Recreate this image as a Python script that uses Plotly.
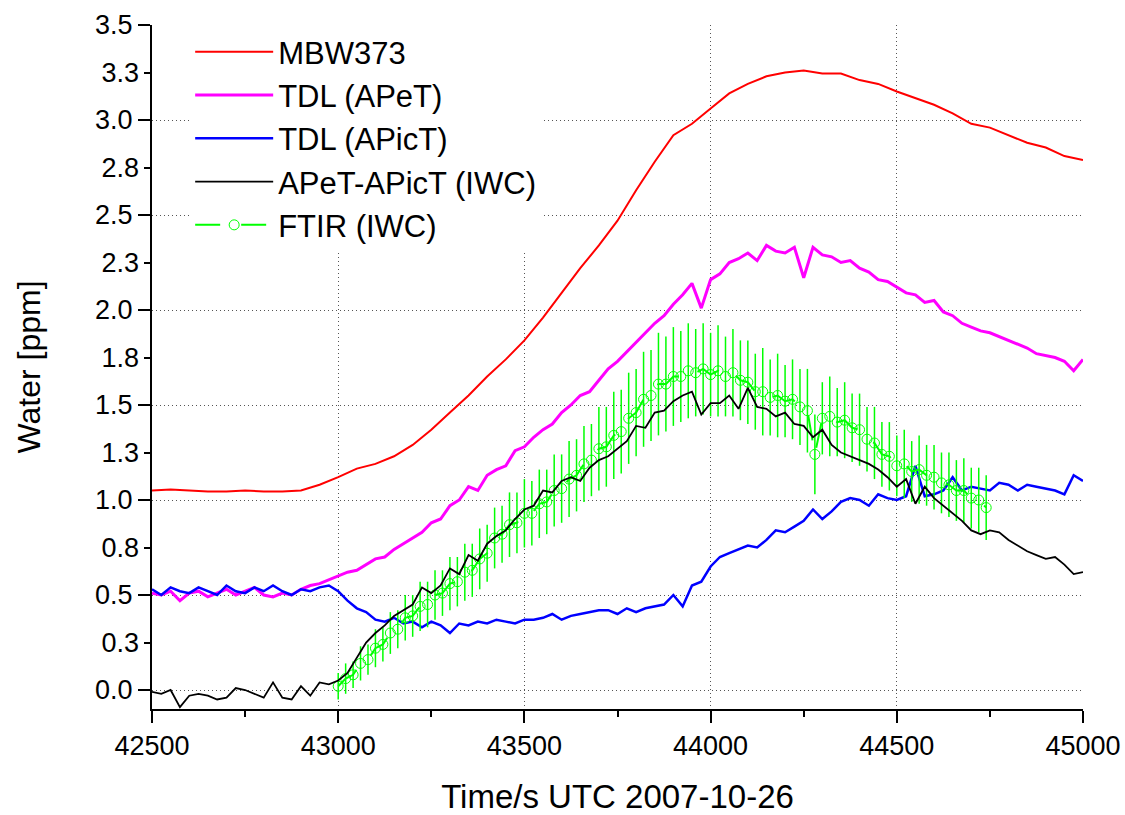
import plotly.graph_objects as go

# ---- time axis of the in-situ series (s UTC, 25 s steps) ----
t_insitu = [42500 + 25 * i for i in range(101)]

# MBW373 frost-point hygrometer (smooth, 50 s steps)
t_mbw = [42500 + 50 * i for i in range(51)]
mbw373 = [1.05, 1.055, 1.05, 1.045, 1.045, 1.05, 1.045, 1.045, 1.05, 1.08,
          1.12, 1.165, 1.19, 1.23, 1.29, 1.37, 1.46, 1.55, 1.65, 1.74,
          1.84, 1.96, 2.09, 2.22, 2.34, 2.47, 2.63, 2.78, 2.92, 2.98,
          3.06, 3.14, 3.19, 3.23, 3.25, 3.26, 3.245, 3.245, 3.21, 3.19,
          3.15, 3.115, 3.08, 3.035, 2.98, 2.96, 2.92, 2.88, 2.855, 2.81,
          2.79]

tdl_apet = [0.51, 0.50, 0.52, 0.47, 0.51, 0.52, 0.49, 0.51, 0.53, 0.50,
            0.52, 0.54, 0.50, 0.49, 0.51, 0.50, 0.53, 0.55, 0.56, 0.58,
            0.60, 0.62, 0.63, 0.66, 0.69, 0.70, 0.74, 0.77, 0.80, 0.83,
            0.88, 0.90, 0.97, 1.00, 1.07, 1.05, 1.13, 1.16, 1.18, 1.26,
            1.28, 1.33, 1.37, 1.40, 1.46, 1.50, 1.55, 1.57, 1.63, 1.69,
            1.73, 1.78, 1.83, 1.88, 1.93, 1.97, 2.03, 2.08, 2.14, 2.01,
            2.16, 2.19, 2.25, 2.27, 2.30, 2.26, 2.34, 2.31, 2.30, 2.33,
            2.17, 2.33, 2.29, 2.28, 2.25, 2.26, 2.22, 2.20, 2.16, 2.15,
            2.12, 2.09, 2.08, 2.04, 2.05, 1.99, 1.97, 1.93, 1.91, 1.89,
            1.88, 1.86, 1.84, 1.82, 1.80, 1.77, 1.76, 1.75, 1.73, 1.68,
            1.74]

tdl_apict = [0.53, 0.50, 0.54, 0.52, 0.51, 0.54, 0.52, 0.50, 0.55, 0.52,
             0.51, 0.54, 0.52, 0.55, 0.52, 0.50, 0.53, 0.52, 0.54, 0.55,
             0.52, 0.47, 0.43, 0.41, 0.37, 0.36, 0.38, 0.35, 0.36, 0.33,
             0.36, 0.34, 0.30, 0.35, 0.34, 0.36, 0.35, 0.37, 0.36, 0.35,
             0.37, 0.37, 0.38, 0.40, 0.37, 0.39, 0.40, 0.41, 0.42, 0.42,
             0.40, 0.43, 0.41, 0.43, 0.44, 0.45, 0.50, 0.44, 0.55, 0.57,
             0.65, 0.70, 0.72, 0.74, 0.76, 0.75, 0.79, 0.84, 0.83, 0.86,
             0.89, 0.95, 0.90, 0.94, 0.99, 1.01, 1.00, 0.97, 1.03, 1.01,
             1.00, 1.02, 1.18, 1.02, 1.03, 1.05, 1.12, 1.05, 1.07, 1.06,
             1.05, 1.09, 1.08, 1.05, 1.08, 1.07, 1.06, 1.05, 1.03, 1.13,
             1.10]

iwc_diff = [-0.01, -0.02, 0.00, -0.09, -0.03, -0.02, -0.03, -0.05, -0.04, 0.01,
            0.00, -0.02, -0.04, 0.04, -0.04, -0.05, 0.02, -0.03, 0.04, 0.03,
            0.05, 0.09, 0.17, 0.25, 0.30, 0.34, 0.39, 0.42, 0.45, 0.54,
            0.51, 0.55, 0.64, 0.61, 0.71, 0.68, 0.77, 0.81, 0.84, 0.90,
            0.95, 0.97, 1.05, 1.04, 1.10, 1.12, 1.10, 1.17, 1.21, 1.23,
            1.27, 1.31, 1.39, 1.38, 1.46, 1.47, 1.52, 1.55, 1.57, 1.45,
            1.51, 1.51, 1.55, 1.48, 1.59, 1.49, 1.48, 1.44, 1.46, 1.40,
            1.39, 1.33, 1.37, 1.29, 1.25, 1.23, 1.21, 1.19, 1.16, 1.12,
            1.07, 1.11, 0.98, 1.07, 1.01, 0.97, 0.93, 0.89, 0.84, 0.82,
            0.84, 0.83, 0.79, 0.76, 0.73, 0.71, 0.69, 0.70, 0.66, 0.61,
            0.62]

# FTIR ice water content with uncertainty (20 s steps)
t_ftir = [43000 + 20 * i for i in range(88)]
ftir_iwc = [0.02, 0.06, 0.08, 0.14, 0.16, 0.22, 0.24, 0.30, 0.32, 0.38,
            0.39, 0.44, 0.45, 0.50, 0.51, 0.56, 0.57, 0.62, 0.63, 0.69,
            0.72, 0.80, 0.82, 0.87, 0.88, 0.93, 0.93, 0.98, 0.99, 1.05,
            1.06, 1.11, 1.13, 1.19, 1.21, 1.27, 1.28, 1.34, 1.36, 1.43,
            1.46, 1.53, 1.55, 1.61, 1.61, 1.65, 1.65, 1.68, 1.67, 1.69,
            1.66, 1.68, 1.65, 1.67, 1.63, 1.62, 1.57, 1.57, 1.54, 1.55,
            1.52, 1.53, 1.49, 1.47, 1.24, 1.43, 1.44, 1.41, 1.42, 1.38,
            1.37, 1.32, 1.30, 1.24, 1.23, 1.18, 1.19, 1.15, 1.16, 1.13,
            1.12, 1.09, 1.08, 1.05, 1.05, 1.01, 1.00, 0.96]
ftir_err = [0.07, 0.08, 0.07, 0.09, 0.08, 0.10, 0.09, 0.11, 0.10, 0.12,
            0.11, 0.13, 0.12, 0.13, 0.12, 0.14, 0.13, 0.15, 0.14, 0.16,
            0.15, 0.16, 0.15, 0.17, 0.16, 0.18, 0.17, 0.18, 0.17, 0.19,
            0.18, 0.20, 0.19, 0.20, 0.19, 0.22, 0.21, 0.23, 0.22, 0.24,
            0.23, 0.25, 0.24, 0.27, 0.25, 0.26, 0.24, 0.25, 0.23, 0.24,
            0.22, 0.24, 0.21, 0.23, 0.21, 0.22, 0.20, 0.23, 0.20, 0.22,
            0.19, 0.21, 0.20, 0.22, 0.21, 0.19, 0.21, 0.18, 0.20, 0.18,
            0.19, 0.17, 0.19, 0.17, 0.18, 0.16, 0.18, 0.16, 0.18, 0.16,
            0.17, 0.16, 0.17, 0.16, 0.17, 0.16, 0.17, 0.17]

# ---- axis ticks ----
x_major = [42500, 43000, 43500, 44000, 44500, 45000]
x_minor = [42750, 43250, 43750, 44250, 44750]
x_grid = [43000, 43500, 44000, 44500]
y_major = [0.0, 0.5, 1.0, 1.5, 2.0, 2.5, 3.0, 3.5]
y_major_text = ["0.0", "0.5", "1.0", "1.5", "2.0", "2.5", "3.0", "3.5"]
y_minor = [0.25, 0.75, 1.25, 1.75, 2.25, 2.75, 3.25]
y_minor_text = ["0.3", "0.8", "1.3", "1.8", "2.3", "2.8", "3.3"]
y_grid = [0.0, 0.5, 1.0, 1.5, 2.0, 2.5, 3.0]

X_RANGE = [42500, 45000]
Y_RANGE = [-0.1, 3.5]
FONT = "Liberation Sans, Arial, sans-serif"
GREEN = "#00ff00"

fig = go.Figure()

fig.add_trace(go.Scatter(x=t_mbw, y=mbw373, mode="lines", name="MBW373",
                         line=dict(color="#ff0000", width=2), legendrank=1))
fig.add_trace(go.Scatter(x=t_insitu, y=tdl_apet, mode="lines", name="TDL (APeT)",
                         line=dict(color="#ff00ff", width=3), legendrank=2))
fig.add_trace(go.Scatter(x=t_insitu, y=tdl_apict, mode="lines", name="TDL (APicT)",
                         line=dict(color="#0000ff", width=2.5), legendrank=3))
fig.add_trace(go.Scatter(x=t_ftir, y=ftir_iwc, mode="lines+markers", name="FTIR (IWC)",
                         line=dict(color=GREEN, width=2, dash="25px,21px"),
                         marker=dict(symbol="circle-open", size=10, color=GREEN,
                                     line=dict(width=1, color=GREEN)),
                         error_y=dict(type="data", array=ftir_err, visible=True,
                                      color=GREEN, thickness=1.5, width=0),
                         legendrank=5))
fig.add_trace(go.Scatter(x=t_insitu, y=iwc_diff, mode="lines", name="APeT-APicT (IWC)",
                         line=dict(color="#000000", width=1.8), legendrank=4))

# helper trace carrying the overlay axes (grid and in-between labels)
fig.add_trace(go.Scatter(x=[], y=[], xaxis="x2", yaxis="y2", showlegend=False,
                         hoverinfo="skip"))

axis_common = dict(
    showline=True, linecolor="black", linewidth=2, mirror=False,
    ticks="outside", tickcolor="black", tickwidth=2, ticklen=12,
    zeroline=False, showgrid=False, automargin=False,
    tickfont=dict(family=FONT, size=27, color="black"),
)

fig.update_layout(
    width=1125, height=815,
    margin=dict(l=152, r=42, t=25, b=106, autoexpand=False),
    paper_bgcolor="white", plot_bgcolor="white",
    font=dict(family=FONT, color="black"),
    xaxis=dict(
        **axis_common, range=X_RANGE, tickmode="array", tickvals=x_major,
        ticktext=[str(v) for v in x_major],
        minor=dict(tickmode="array", tickvals=x_minor, ticks="outside",
                   ticklen=6, tickwidth=2, tickcolor="black", showgrid=False),
        title=dict(text="Time/s UTC 2007-10-26",
                   font=dict(family=FONT, size=33, color="black"), standoff=29),
    ),
    yaxis=dict(
        **axis_common, range=Y_RANGE, tickmode="array", tickvals=y_major,
        ticktext=y_major_text,
        minor=dict(tickmode="array", tickvals=y_minor, ticks="outside",
                   ticklen=6, tickwidth=2, tickcolor="black", showgrid=False),
        title=dict(text="Water [ppm]",
                   font=dict(family=FONT, size=32, color="black"), standoff=45),
    ),
    xaxis2=dict(
        overlaying="x", anchor="y", side="bottom", range=X_RANGE,
        tickmode="array", tickvals=x_grid, showticklabels=False, ticks="",
        showline=False, zeroline=False, automargin=False,
        showgrid=True, gridcolor="#555555", gridwidth=1, griddash="1px,3px",
    ),
    yaxis2=dict(
        overlaying="y", anchor="x", side="left", range=Y_RANGE,
        tickmode="array", tickvals=y_minor, ticktext=y_minor_text,
        ticks="", ticklabelstandoff=12, showline=False, zeroline=False,
        showgrid=False, automargin=False,
        tickfont=dict(family=FONT, size=27, color="black"),
        minor=dict(tickmode="array", tickvals=y_grid, ticks="",
                   showgrid=True, gridcolor="#555555", gridwidth=1,
                   griddash="1px,3px"),
    ),
    legend=dict(
        x=0.041, y=1.0, xanchor="left", yanchor="top",
        bgcolor="white", borderwidth=0, itemwidth=78,
        font=dict(family=FONT, size=31, color="black"),
        traceorder="normal",
    ),
    showlegend=True,
)

fig.write_html("out.html")
